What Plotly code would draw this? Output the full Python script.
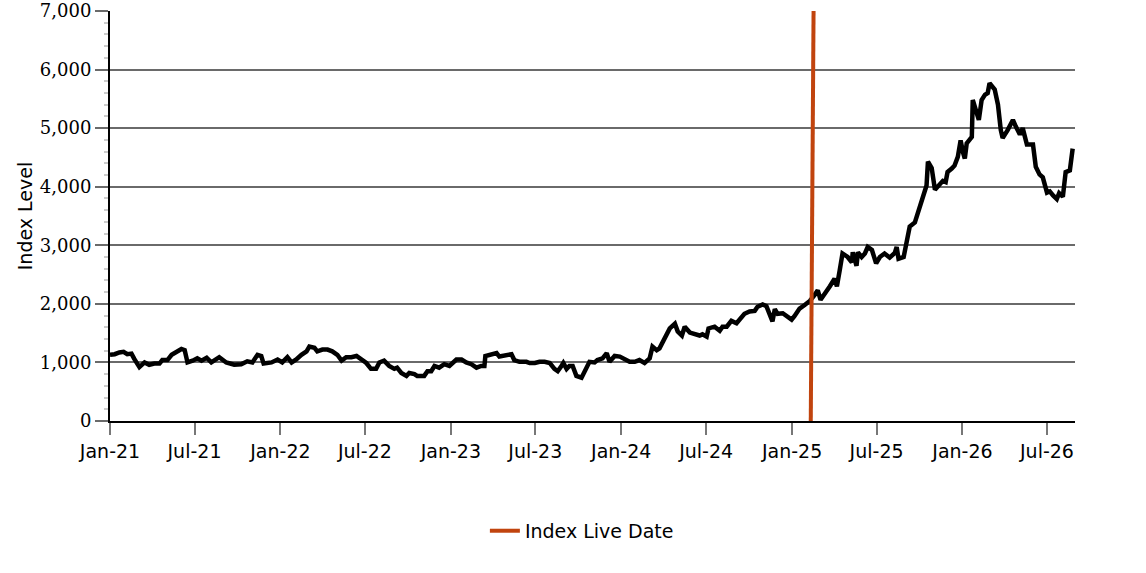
import plotly.graph_objects as go

# Index level series
dates = [
    "2021-01-01", "2021-01-11", "2021-01-21", "2021-01-30", "2021-02-07", "2021-02-16", "2021-02-22", "2021-02-27",
    "2021-03-05", "2021-03-16", "2021-03-26", "2021-04-06", "2021-04-17", "2021-04-23", "2021-05-04", "2021-05-13",
    "2021-05-23", "2021-06-03", "2021-06-10", "2021-06-16", "2021-06-27", "2021-07-07", "2021-07-16", "2021-07-27",
    "2021-08-06", "2021-08-23", "2021-09-07", "2021-09-24", "2021-10-09", "2021-10-22", "2021-11-02", "2021-11-13",
    "2021-11-21", "2021-11-26", "2021-12-13", "2021-12-26", "2022-01-05", "2022-01-16", "2022-01-25", "2022-02-04",
    "2022-02-15", "2022-02-26", "2022-03-04", "2022-03-15", "2022-03-21", "2022-04-01", "2022-04-12", "2022-04-22",
    "2022-05-03", "2022-05-12", "2022-05-22", "2022-06-02", "2022-06-13", "2022-06-23", "2022-06-30", "2022-07-04",
    "2022-07-14", "2022-07-25", "2022-08-01", "2022-08-11", "2022-08-22", "2022-09-02", "2022-09-08", "2022-09-17",
    "2022-09-28", "2022-10-04", "2022-10-15", "2022-10-21", "2022-11-05", "2022-11-12", "2022-11-20", "2022-11-27",
    "2022-12-07", "2022-12-18", "2022-12-29", "2023-01-05", "2023-01-13", "2023-01-24", "2023-02-03", "2023-02-14",
    "2023-02-25", "2023-03-07", "2023-03-14", "2023-03-16", "2023-03-29", "2023-04-09", "2023-04-15", "2023-04-22",
    "2023-04-30", "2023-05-11", "2023-05-17", "2023-05-28", "2023-06-12", "2023-06-19", "2023-06-30", "2023-07-10",
    "2023-07-21", "2023-08-01", "2023-08-11", "2023-08-18", "2023-08-26", "2023-08-30", "2023-09-06", "2023-09-12",
    "2023-09-19", "2023-09-27", "2023-10-08", "2023-10-19", "2023-10-25", "2023-11-05", "2023-11-11", "2023-11-22",
    "2023-12-01", "2023-12-07", "2023-12-18", "2023-12-29", "2024-01-08", "2024-01-19", "2024-01-30", "2024-02-09",
    "2024-02-20", "2024-03-02", "2024-03-08", "2024-03-17", "2024-03-23", "2024-04-03", "2024-04-14", "2024-04-25",
    "2024-05-01", "2024-05-10", "2024-05-16", "2024-05-27", "2024-06-06", "2024-06-17", "2024-06-23", "2024-07-02",
    "2024-07-06", "2024-07-19", "2024-07-30", "2024-08-05", "2024-08-14", "2024-08-24", "2024-09-04", "2024-09-11",
    "2024-09-21", "2024-10-02", "2024-10-13", "2024-10-19", "2024-10-30", "2024-11-07", "2024-11-12", "2024-11-20",
    "2024-11-25", "2024-12-01", "2024-12-12", "2024-12-22", "2024-12-31", "2025-01-06", "2025-01-17", "2025-01-28",
    "2025-02-08", "2025-02-18", "2025-02-25", "2025-03-03", "2025-03-12", "2025-03-23", "2025-04-02", "2025-04-07",
    "2025-04-13", "2025-04-19", "2025-04-30", "2025-05-09", "2025-05-11", "2025-05-19", "2025-05-22", "2025-05-30",
    "2025-06-06", "2025-06-12", "2025-06-21", "2025-06-30", "2025-07-08", "2025-07-18", "2025-07-29", "2025-08-09",
    "2025-08-13", "2025-08-17", "2025-08-28", "2025-09-03", "2025-09-10", "2025-09-21", "2025-09-27", "2025-10-06",
    "2025-10-12", "2025-10-16", "2025-10-19", "2025-10-27", "2025-11-03", "2025-11-11", "2025-11-20", "2025-11-26",
    "2025-11-30", "2025-12-09", "2025-12-15", "2025-12-22", "2025-12-28", "2026-01-02", "2026-01-06", "2026-01-10",
    "2026-01-21", "2026-01-23", "2026-02-01", "2026-02-05", "2026-02-11", "2026-02-18", "2026-02-24", "2026-02-28",
    "2026-03-11", "2026-03-18", "2026-03-24", "2026-03-28", "2026-04-08", "2026-04-19", "2026-04-25", "2026-05-04",
    "2026-05-10", "2026-05-19", "2026-06-01", "2026-06-07", "2026-06-15", "2026-06-22", "2026-07-01", "2026-07-07",
    "2026-07-14", "2026-07-22", "2026-07-27", "2026-08-04", "2026-08-10", "2026-08-19", "2026-08-25",
]
index_level = [
    1130, 1140, 1170, 1180, 1140, 1150, 1060, 990,
    920, 1000, 960, 980, 980, 1040, 1040, 1130,
    1180, 1230, 1210, 1000, 1030, 1070, 1030, 1080,
    1000, 1090, 1000, 960, 970, 1020, 1000, 1130,
    1110, 980, 1000, 1050, 1000, 1090, 1000, 1050,
    1130, 1190, 1270, 1250, 1190, 1220, 1220, 1190,
    1130, 1030, 1090, 1090, 1110, 1050, 1000, 990,
    890, 890, 1000, 1030, 940, 890, 910, 820,
    770, 820, 800, 770, 770, 850, 850, 940,
    910, 970, 940, 990, 1050, 1050, 1000, 970,
    910, 940, 940, 1110, 1130, 1160, 1100, 1110,
    1140, 1140, 1040, 1010, 1010, 990, 990, 1010,
    1010, 990, 890, 850, 940, 990, 890, 940,
    940, 770, 740, 940, 1010, 1000, 1040, 1070,
    1160, 1010, 1110, 1100, 1050, 1010, 1010, 1040,
    990, 1070, 1270, 1210, 1240, 1410, 1580, 1660,
    1530, 1460, 1610, 1510, 1490, 1460, 1480, 1440,
    1580, 1610, 1540, 1610, 1610, 1710, 1670, 1730,
    1830, 1870, 1880, 1950, 1990, 1960, 1840, 1700,
    1910, 1830, 1840, 1790, 1730, 1790, 1920, 1980,
    2050, 2150, 2230, 2070, 2160, 2300, 2430, 2300,
    2570, 2860, 2800, 2710, 2880, 2650, 2880, 2800,
    2860, 2970, 2920, 2690, 2800, 2860, 2790, 2870,
    2970, 2770, 2800, 3090, 3320, 3390, 3550, 3750,
    3900, 4020, 4430, 4320, 3950, 4020, 4100, 4080,
    4250, 4310, 4360, 4510, 4790, 4590, 4480, 4740,
    4850, 5480, 5280, 5140, 5480, 5570, 5600, 5770,
    5660, 5400, 4970, 4830, 4970, 5140, 5030, 4890,
    5000, 4720, 4720, 4340, 4210, 4160, 3900, 3920,
    3850, 3790, 3890, 3830, 4250, 4280, 4650,
]

# Index live date marker
live_dates = ["2025-02-10", "2025-02-16"]
live_levels = [0, 7000]

y_ticks = [0, 1000, 2000, 3000, 4000, 5000, 6000, 7000]
y_tick_text = ["0", "1,000", "2,000", "3,000", "4,000", "5,000", "6,000", "7,000"]

fig = go.Figure()
fig.add_trace(go.Scatter(
    x=dates, y=index_level, mode="lines",
    line=dict(color="#000000", width=4.5),
    showlegend=False, name="Index",
))
fig.add_trace(go.Scatter(
    x=live_dates, y=live_levels, mode="lines",
    line=dict(color="#C1440E", width=4),
    name="Index Live Date",
))

fig.update_layout(
    width=1146, height=573,
    paper_bgcolor="white", plot_bgcolor="white",
    margin=dict(l=110, r=71, t=11, b=152, autoexpand=False),
    font=dict(family="DejaVu Sans", size=19, color="#000000"),
    legend=dict(orientation="h", x=0.489, xanchor="center", y=-0.268, yanchor="middle",
                font=dict(family="DejaVu Sans", size=19)),
)
fig.update_xaxes(
    range=["2021-01-01", "2026-08-30"], automargin=False,
    tick0="2021-01-01", dtick="M6", tickformat="%b-%y",
    showgrid=False, showline=True, linecolor="#000000", linewidth=2,
    ticks="outside", ticklen=12, tickwidth=2, tickcolor="#777777",
    tickfont=dict(family="DejaVu Sans", size=19),
    ticklabeloverflow="allow",
    zeroline=False,
)
fig.update_yaxes(
    range=[0, 7000], tickvals=y_ticks, ticktext=y_tick_text, automargin=False,
    showgrid=True, gridcolor="#6a6a6a", gridwidth=2,
    showline=True, linecolor="#000000", linewidth=2,
    ticks="outside", ticklen=13, tickwidth=2, tickcolor="#6a6a6a",
    tickfont=dict(family="DejaVu Serif", size=18),
    ticklabeloverflow="allow",
    minor=dict(dtick=200, ticks="outside", ticklen=4, tickwidth=2, tickcolor="#cccccc", showgrid=False),
    title=dict(text="Index Level", font=dict(family="DejaVu Sans", size=19), standoff=2),
    zeroline=False,
)

fig.write_html("out.html", config={"displayModeBar": False},
               post_script="document.body.style.margin='0px';")
